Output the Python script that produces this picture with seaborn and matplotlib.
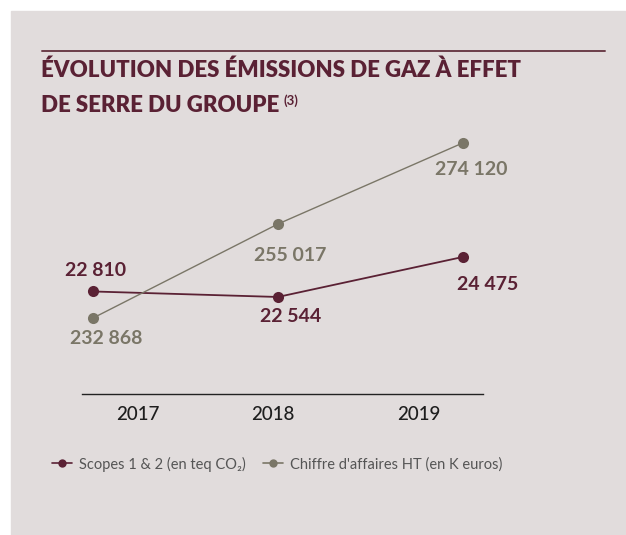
import pandas as pd
import matplotlib.pyplot as plt
import matplotlib.patches as patches
import seaborn as sns

# --- Data ---
years = ["2017", "2018", "2019"]
scopes = [22810, 22544, 24475]          # teq CO2
revenue = [232868, 255017, 274120]      # K euros

# --- Style ---
sns.set_style("white")
plt.rcParams["font.family"] = ["Lato", "DejaVu Sans"]

maroon = "#5a2134"
grey = "#7a7667"
bg = "#e1dcdc"

df = pd.DataFrame({"pos": range(len(years)), "year": years,
                   "scopes": scopes, "revenue": revenue})

W, H = 626, 535
fig = plt.figure(figsize=(W / 100, H / 100), dpi=100)
fig.patch.set_facecolor("white")
fig.patches.append(patches.Rectangle((11 / W, 0), 1 - 11 / W, 1 - 11 / H,
                                     transform=fig.transFigure, color=bg, zorder=-5))

# top rule
fig.add_artist(plt.Line2D([42 / W, 605 / W], [1 - 50.5 / H] * 2, color="#6b3e4a", lw=1.4))

# title
fig.text(41 / W, 1 - 77 / H, "ÉVOLUTION DES ÉMISSIONS DE GAZ À EFFET",
         fontsize=16, fontweight="heavy", color=maroon, va="baseline")
t2 = fig.text(41 / W, 1 - 112 / H, "DE SERRE DU GROUPE",
              fontsize=16, fontweight="heavy", color=maroon, va="baseline")

# --- Axes ---
ax = fig.add_axes([82 / W, (H - 394) / H, (483 - 82) / W, (394 - 130) / H])
ax.set_facecolor("none")
ax2 = ax.twinx()
ax2.set_facecolor("none")

sns.lineplot(data=df, x="pos", y="scopes", ax=ax, color=maroon, lw=1.3,
             marker="o", markersize=8, markeredgewidth=0, zorder=3)
sns.lineplot(data=df, x="pos", y="revenue", ax=ax2, color=grey, lw=1.0,
             marker="o", markersize=8, markeredgewidth=0, zorder=2)

ax.set_xlim(-0.06, 2.11)
ax.set_ylim(17857, 30610)
ax2.set_ylim(214950, 277185)

for a in (ax, ax2):
    for s in a.spines.values():
        s.set_visible(False)
    a.set_yticks([])
    a.set_ylabel("")
    a.set_xlabel("")
ax.spines["bottom"].set_visible(True)
ax.spines["bottom"].set_color("#222222")
ax.spines["bottom"].set_linewidth(1.0)

# year labels sit off the point positions in the original layout
tick_pos = [0.24, 0.97, 1.76]
ax.set_xticks(tick_pos)
ax.set_xticklabels(years, fontsize=13.5, color="#1e1e1e", fontweight="medium")
ax.tick_params(axis="x", length=0, pad=9)

# --- Value labels ---
fmt = lambda v: f"{v:,}".replace(",", " ")
scope_off = [(2, 21), (13, -20), (25, -27)]
rev_off = [(13, -21), (12, -31), (9, -26)]
for i in range(len(years)):
    ax.annotate(fmt(scopes[i]), (i, scopes[i]), xytext=scope_off[i],
                textcoords="offset pixels", ha="center", va="center",
                fontsize=14, fontweight="bold", color=maroon)
    ax2.annotate(fmt(revenue[i]), (i, revenue[i]), xytext=rev_off[i],
                 textcoords="offset pixels", ha="center", va="center",
                 fontsize=14, fontweight="bold", color=grey)

# --- Legend ---
h1 = plt.Line2D([], [], color=maroon, lw=1.2, marker="o", markersize=6, markeredgewidth=0)
h2 = plt.Line2D([], [], color=grey, lw=1.2, marker="o", markersize=6, markeredgewidth=0)
fig.legend([h1, h2], ["Scopes 1 & 2 (en teq CO₂)", "Chiffre d'affaires HT (en K euros)"],
           loc="center left", bbox_to_anchor=(39 / W, (H - 464) / H), ncol=2,
           frameon=False, fontsize=10.5, labelcolor="#555555", handlelength=1.35,
           handletextpad=0.5, columnspacing=1.2)

# superscript after the second title line
fig.canvas.draw()
bb = t2.get_window_extent()
fig.text((bb.x1 + 4) / W, 1 - 105 / H, "(3)", fontsize=9.5, fontweight="bold",
         color=maroon, va="baseline")

fig.savefig("out.png", dpi=100, facecolor=fig.get_facecolor())
